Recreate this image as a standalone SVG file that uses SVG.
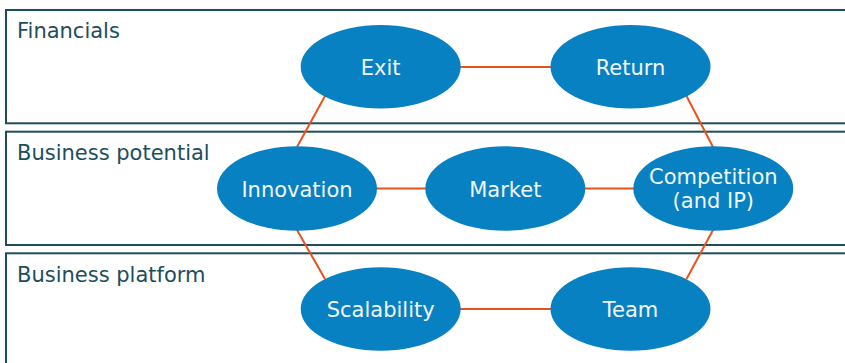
<svg xmlns="http://www.w3.org/2000/svg" width="845" height="363" viewBox="0 0 845 363">
<style>
.band{fill:#ffffff;stroke:#1d4e5c;stroke-width:2}
.blabel{font-family:"DejaVu Sans",Verdana,sans-serif;font-size:21px;fill:#1d4e5c}
.node{fill:#0781c2}
.ntext{font-family:"DejaVu Sans",Verdana,sans-serif;font-size:21px;fill:#f2f7fb;text-anchor:middle}
.conn{stroke:#e8521c;stroke-width:2;fill:none}
</style>
<rect width="845" height="363" fill="#ffffff"/>
<g id="band-financials">
<rect class="band" x="6" y="10" width="850" height="113.3"/>
<text class="blabel" x="17" y="38">Financials</text>
</g>
<g id="band-business-potential">
<rect class="band" x="6" y="131.7" width="850" height="113.3"/>
<text class="blabel" x="17" y="160">Business potential</text>
</g>
<g id="band-business-platform">
<rect class="band" x="6" y="253.3" width="850" height="130"/>
<text class="blabel" x="17" y="282">Business platform</text>
</g>
<g id="connectors">
<line class="conn" x1="460" y1="67" x2="551" y2="67"/>
<line class="conn" x1="376" y1="188.5" x2="426" y2="188.5"/>
<line class="conn" x1="585" y1="188.5" x2="634" y2="188.5"/>
<line class="conn" x1="460" y1="309" x2="551" y2="309"/>
<line class="conn" x1="325" y1="96" x2="297" y2="147"/>
<line class="conn" x1="686.5" y1="96" x2="713" y2="147"/>
<line class="conn" x1="297" y1="230" x2="325" y2="279"/>
<line class="conn" x1="713" y1="230" x2="686.5" y2="279"/>
</g>
<g id="node-exit">
<ellipse class="node" cx="380.7" cy="66.7" rx="80" ry="41.7"/>
<text class="ntext" x="380.7" y="75">Exit</text>
</g>
<g id="node-return">
<ellipse class="node" cx="630.5" cy="66.7" rx="80" ry="41.7"/>
<text class="ntext" x="630.5" y="75">Return</text>
</g>
<g id="node-innovation">
<ellipse class="node" cx="297" cy="188.5" rx="80" ry="42.3"/>
<text class="ntext" x="297" y="196.5">Innovation</text>
</g>
<g id="node-market">
<ellipse class="node" cx="505.3" cy="188.5" rx="80" ry="42.3"/>
<text class="ntext" x="505.3" y="196.5">Market</text>
</g>
<g id="node-competition">
<ellipse class="node" cx="713.3" cy="188.5" rx="80" ry="42.3"/>
<text class="ntext" x="713.3" y="184">Competition</text>
<text class="ntext" x="713.3" y="208">(and IP)</text>
</g>
<g id="node-scalability">
<ellipse class="node" cx="380.7" cy="309" rx="80" ry="41.7"/>
<text class="ntext" x="380.7" y="317">Scalability</text>
</g>
<g id="node-team">
<ellipse class="node" cx="630.5" cy="309" rx="80" ry="41.7"/>
<text class="ntext" x="630.5" y="317">Team</text>
</g>
</svg>
